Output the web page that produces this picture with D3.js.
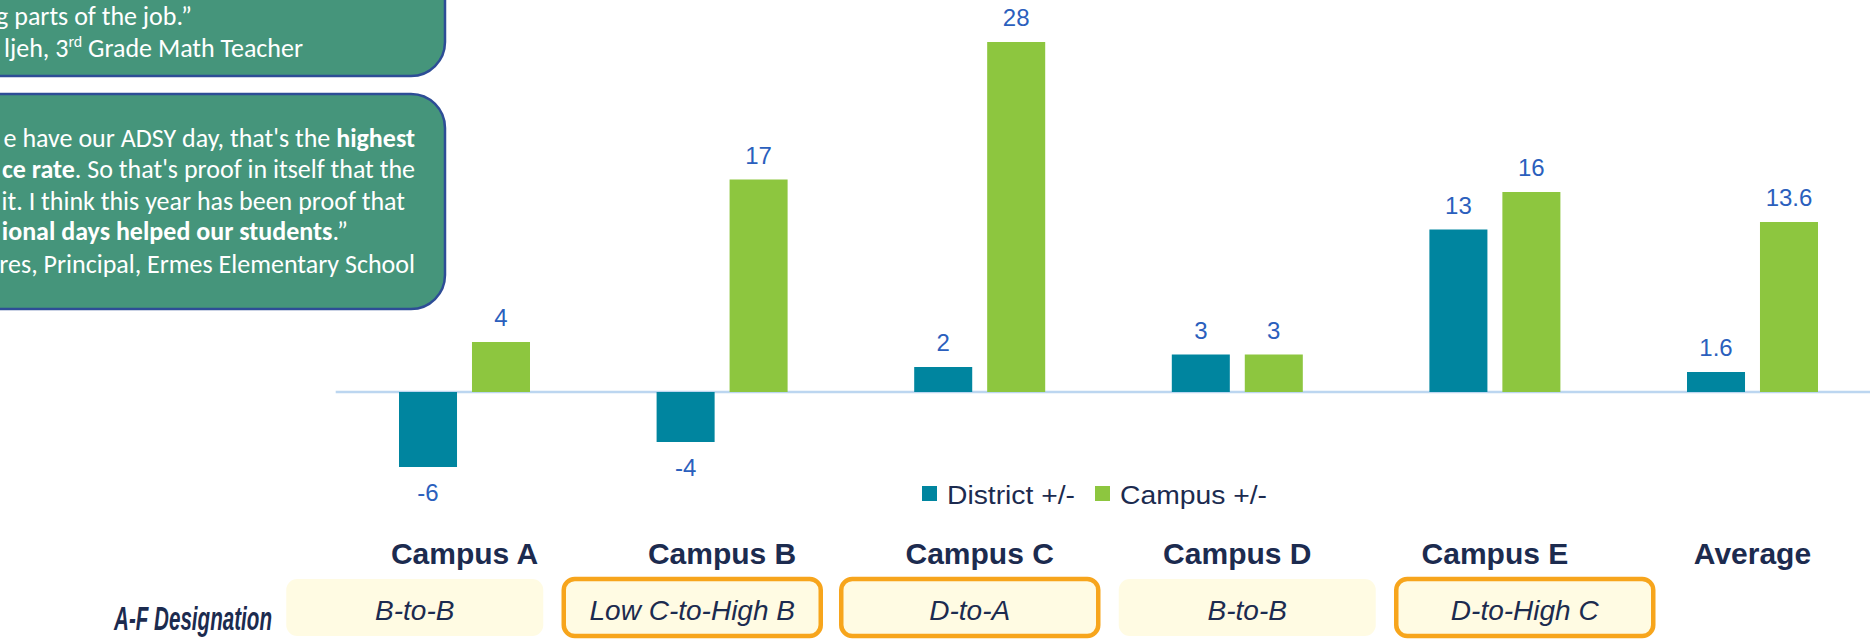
<!DOCTYPE html>
<html><head><meta charset="utf-8">
<script src="https://cdn.jsdelivr.net/npm/d3@7"></script>
<style>html,body{margin:0;padding:0;background:#fff;overflow:hidden}</style>
</head><body>
<svg id="chart" width="1870" height="639"></svg>
<script>
// ---------- data ----------
const categories = ["Campus A", "Campus B", "Campus C", "Campus D", "Campus E", "Average"];
const seriesNames = ["District +/-", "Campus +/-"];
const districtValues = [-6, -4, 2, 3, 13, 1.6];
const campusValues = [4, 17, 28, 3, 16, 13.6];
const designationLabel = "A-F Designation";
const designations = ["B-to-B", "Low C-to-High B", "D-to-A", "B-to-B", "D-to-High C"];
const designationHighlighted = [false, true, true, false, true];
// quote boxes (text partly clipped by the slide edge)
const quote1Lines = [
  [{t: "g parts of the job.”"}],
  [{t: "ljeh, 3"}, {t: "rd", sup: true}, {t: " Grade Math Teacher", after: true}]
];
const quote2Lines = [
  [{t: "e have our ADSY day, that's the "}, {t: "highest", b: true}],
  [{t: "ce rate", b: true}, {t: ". So that's proof in itself that the"}],
  [{t: "it. I think this year has been proof that"}],
  [{t: "ional days helped our students", b: true}, {t: ".”"}],
  [{t: "res, Principal, Ermes Elementary School"}]
];

// ---------- drawing ----------
const svg = d3.select("#chart");
const colors = {"District +/-": "#00859f", "Campus +/-": "#8dc63f"};
const labelColor = "#2b5fbd";
const navy = "#1c2b4f";
const font = "'Liberation Sans', Arial, sans-serif";

const x = d3.scaleBand().domain(categories).range([335.7, 1881.3]).padding(0);
const groupW = 131;
const x1 = d3.scaleBand().domain(seriesNames).range([0, groupW]).paddingInner(0.205).paddingOuter(0);
const y = d3.scaleLinear().domain([-8, 30]).range([492, 17]);

const rows = categories.map((c, i) => ({cat: c, vals: [
  {s: seriesNames[0], v: districtValues[i]},
  {s: seriesNames[1], v: campusValues[i]}
]}));

// baseline
svg.append("line")
  .attr("x1", x.range()[0]).attr("x2", 1870)
  .attr("y1", y(0)).attr("y2", y(0))
  .attr("stroke", "#bcd6f0").attr("stroke-width", 2.5);

const g = svg.selectAll("g.grp").data(rows).join("g")
  .attr("class", "grp")
  .attr("transform", d => `translate(${x(d.cat) + (x.bandwidth() - groupW) / 2},0)`);

g.selectAll("rect").data(d => d.vals).join("rect")
  .attr("x", d => x1(d.s))
  .attr("width", x1.bandwidth())
  .attr("y", d => Math.min(y(d.v), y(0)))
  .attr("height", d => Math.abs(y(d.v) - y(0)))
  .attr("fill", d => colors[d.s]);

g.selectAll("text.val").data(d => d.vals).join("text")
  .attr("class", "val")
  .attr("x", d => x1(d.s) + x1.bandwidth() / 2)
  .attr("y", d => d.v >= 0 ? y(d.v) - 16 : y(d.v) + 34)
  .attr("text-anchor", "middle")
  .attr("font-family", font).attr("font-size", 24)
  .attr("fill", labelColor)
  .text(d => String(d.v));

// legend
const legend = svg.append("g");
const legendPos = [{s: seriesNames[0], x: 922, w: 128}, {s: seriesNames[1], x: 1095, w: 147}];
legend.selectAll("rect").data(legendPos).join("rect")
  .attr("x", d => d.x).attr("y", 486).attr("width", 15).attr("height", 15)
  .attr("fill", d => colors[d.s]);
legend.selectAll("text").data(legendPos).join("text")
  .attr("x", d => d.x + 25).attr("y", 504)
  .attr("font-family", font).attr("font-size", 26).attr("fill", navy)
  .attr("textLength", d => d.w).attr("lengthAdjust", "spacingAndGlyphs")
  .text(d => d.s);

// category labels
svg.selectAll("text.cat").data(categories).join("text")
  .attr("class", "cat")
  .attr("x", d => x(d) + x.bandwidth() / 2)
  .attr("y", 564)
  .attr("text-anchor", "middle")
  .attr("font-family", font).attr("font-size", 30).attr("font-weight", "bold")
  .attr("fill", navy)
  .text(d => d);

// A-F designation row
svg.append("text")
  .attr("x", 114).attr("y", 630)
  .attr("font-family", font).attr("font-size", 33).attr("font-weight", "bold").attr("font-style", "italic")
  .attr("fill", navy)
  .attr("textLength", 158).attr("lengthAdjust", "spacingAndGlyphs")
  .text(designationLabel);

const xd = d3.scaleBand().domain(d3.range(designations.length)).range([276, 276 + 277.5 * 5]).padding(0);
const boxW = 257;
const dg = svg.selectAll("g.des").data(designations).join("g")
  .attr("class", "des")
  .attr("transform", (d, i) => `translate(${xd(i) + xd.bandwidth() / 2},0)`);
dg.append("rect")
  .attr("x", -boxW / 2).attr("y", 579).attr("width", boxW).attr("height", 57)
  .attr("rx", 11)
  .attr("fill", "#fffbe3")
  .attr("stroke", (d, i) => designationHighlighted[i] ? "#f7a51c" : "none")
  .attr("stroke-width", 4.5);
dg.append("text")
  .attr("y", 620).attr("text-anchor", "middle")
  .attr("font-family", font).attr("font-size", 28).attr("font-style", "italic")
  .attr("fill", navy)
  .text(d => d);

// quote boxes
const qFont = "Carlito, Lato, 'Open Sans', sans-serif";
function quoteBox(y0, y1, lines, baselines, ends) {
  svg.append("rect")
    .attr("x", -60).attr("y", y0).attr("width", 505).attr("height", y1 - y0)
    .attr("rx", 34)
    .attr("fill", "#45957b").attr("stroke", "#2d4d96").attr("stroke-width", 2.5);
  lines.forEach((parts, i) => {
    const t = svg.append("text")
      .attr("x", ends[i]).attr("y", baselines[i])
      .attr("text-anchor", "end")
      .attr("font-family", qFont).attr("font-size", 26).attr("fill", "#ffffff");
    parts.forEach(p => {
      const ts = t.append("tspan").text(p.t);
      if (p.b) ts.attr("font-weight", "bold");
      if (p.sup) ts.attr("font-size", 16).attr("dy", -10);
      if (p.after) ts.attr("dy", 10);
    });
  });
}
quoteBox(-60, 76, quote1Lines, [25, 57], [192, 303]);
quoteBox(94, 309, quote2Lines, [147, 178, 210, 240, 273], [415, 415, 405, 348, 415]);
</script>
</body></html>
